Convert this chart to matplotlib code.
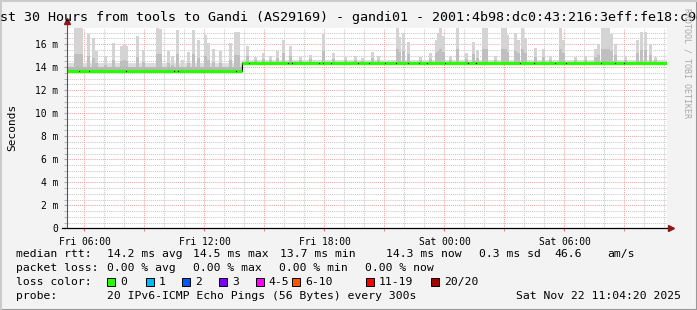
import numpy as np
import matplotlib.pyplot as plt
from matplotlib.lines import Line2D
from matplotlib.patches import Rectangle

plt.rcParams['font.family'] = ['DejaVu Sans Mono', 'DejaVu Sans']

W, H = 697, 310

# x axis: hours since graph start (Fri ~05:08), 30 hours shown
tick_hours = [0.87, 6.87, 12.87, 18.87, 24.87]
tick_labels = ['Fri 06:00', 'Fri 12:00', 'Fri 18:00', 'Sat 00:00', 'Sat 06:00']
ytick_vals = [0, 2, 4, 6, 8, 10, 12, 14, 16]
ytick_labels = ['0', '2 m', '4 m', '6 m', '8 m', '10 m', '12 m', '14 m', '16 m']

# median rtt (ms), one level per segment
median_hours = [0, 8.74, 30]
median_ms = [13.7, 14.4]
smoke_lo = [13.6, 14.3]
smoke_hi = [14.35, 14.6]
smoke_dark_hi = [14.05, 14.45]

# smoke spikes: hour and max rtt (ms)
spike_hours = [0.4, 0.55, 0.7, 1.05, 1.3, 1.48, 1.9, 2.3, 2.7, 2.85, 2.95, 3.5, 3.8,
               4.5, 4.65, 5.05, 5.25, 5.5, 5.75, 6.05, 6.3, 6.55, 6.9, 7.05, 7.3,
               7.65, 8.15, 8.4, 8.55, 9.0, 9.4, 9.8, 10.15, 10.5, 10.8, 11.15,
               11.65, 12.15, 12.8, 13.3, 13.9, 14.4, 14.75, 15.25, 15.55, 16.5,
               16.6, 16.8, 17.05, 17.65, 18.15, 18.45, 18.55, 18.65, 18.8, 19.15,
               19.5, 19.95, 20.3, 20.5, 20.8, 20.95, 21.4, 21.75, 21.9, 22.0,
               22.4, 22.55, 22.75, 22.9, 23.4, 23.8, 24.15, 24.65, 24.8, 25.4,
               25.9, 26.4, 26.55, 26.75, 26.9, 27.05, 27.2, 27.4, 27.9, 28.5,
               28.7, 28.9, 29.15, 29.4]
spike_ms = [17.4, 17.4, 17.4, 16.9, 16.5, 15.4, 15.0, 16.1, 15.8, 16.0, 15.8, 16.7, 15.5,
            17.4, 17.3, 15.4, 15.0, 17.25, 14.6, 15.3, 17.25, 16.4, 16.8, 16.1, 15.6,
            15.4, 16.1, 17.1, 17.1, 15.8, 14.9, 15.2, 15.0, 15.4, 16.4, 15.8,
            14.9, 15.1, 16.9, 15.2, 14.9, 15.0, 14.8, 15.3, 15.0, 17.4,
            16.6, 17.0, 16.2, 14.9, 15.2, 16.4, 17.0, 17.4, 16.7, 15.0,
            17.4, 15.2, 16.2, 15.5, 17.4, 17.4, 15.0, 17.4, 17.4, 16.8,
            17.0, 16.4, 17.4, 16.5, 15.7, 15.6, 15.0, 17.4, 16.4, 14.9,
            15.0, 15.6, 16.0, 17.4, 17.4, 17.4, 16.9, 16.0, 15.0, 16.4,
            17.1, 17.1, 16.0, 14.9]

# dark pixels on the median line
dot_hours = [0.6, 1.1, 2.95, 5.35, 5.55, 8.45, 9.12, 11.06, 11.25, 12.6, 12.8, 13.18,
             14.53, 15.11, 15.89, 16.47, 17.05, 17.62, 18.01, 18.88, 20.04, 20.43,
             22.65, 23.33, 24.39, 24.97, 26.7, 27.38, 27.86]

loss_labels = ['0', '1', '2', '3', '4-5', '6-10', '11-19', '20/20']
loss_colors = ['#26ff00', '#00b8ff', '#0059ff', '#7e00ff', '#ff00ff', '#ff5500', '#ff0000', '#a10000']


def fx(x):
    return x / W


def fy(y):
    return 1 - y / H


fig = plt.figure(figsize=(W / 100, H / 100), dpi=100, facecolor='#f3f3f3')
ax = fig.add_axes([fx(67), fy(228.3), 600 / W, (228.3 - 27.5) / H])
ax.set_facecolor('white')
ax.set_xlim(0, 30)
ax.set_ylim(0, 17.45)
for s in ax.spines.values():
    s.set_visible(False)

# grid
grey, red = '#c9c9c9', '#f2a5a5'
for v in np.arange(0.5, 17.5, 0.5):
    is_major = v % 2 == 0
    ax.axhline(v, color=red if is_major else grey, lw=0.75, ls=(0, (1, 1)), zorder=0)
for k in range(30):
    h = 0.87 + k
    if h < 30:
        ax.axvline(h, color=red if k % 3 == 0 else grey, lw=0.75, ls=(0, (1, 1)), zorder=0)

# smoke
idx = np.array(spike_hours) >= median_hours[1]
base = np.where(idx, median_ms[1], median_ms[0])
top = np.array(spike_ms)
ax.fill_between(median_hours, smoke_lo + [smoke_lo[-1]], smoke_hi + [smoke_hi[-1]],
                step='post', color='#dcdcdc', lw=0, zorder=1)
ax.bar(spike_hours, top - base, bottom=base, width=0.15, align='center',
       color='#d4d4d4', lw=0, zorder=1)
ax.bar(spike_hours, (top - base) * 0.4, bottom=base, width=0.15, align='center',
       color='#bfbfbf', lw=0, zorder=1)
ax.fill_between(median_hours, median_ms + [median_ms[-1]], smoke_dark_hi + [smoke_dark_hi[-1]],
                step='post', color='#b8b8b8', lw=0, zorder=1)

# median
ax.step(median_hours, median_ms + [median_ms[-1]], where='post', color='black', lw=0.8, zorder=2)
ax.hlines(median_ms, median_hours[:-1], median_hours[1:], color='#26ff00', lw=2.3, zorder=3)
dot_y = np.where(np.array(dot_hours) >= median_hours[1], median_ms[1], median_ms[0])
ax.plot(dot_hours, dot_y, ls='none', marker='s', ms=0.8, mew=0, color='black', zorder=4)

# ticks
ax.set_xticks(tick_hours, tick_labels)
ax.set_xticks([h for h in np.arange(0.87, 30, 3) if h not in tick_hours], minor=True)
ax.tick_params(axis='x', which='both', length=2.5, color='#e07070', pad=3.5, labelsize=6.9)
ax.set_yticks(ytick_vals, ytick_labels)
ax.set_yticks(np.arange(0.5, 17.5, 0.5), minor=True)
ax.tick_params(axis='y', which='both', length=2, color='#aaaaaa', pad=4.5, labelsize=6.9)

# axes lines with arrows
fig.add_artist(Line2D([fx(67), fx(67)], [fy(228.3), fy(21)], color='#555555', lw=0.8,
                      transform=fig.transFigure))
fig.add_artist(Line2D([fx(62), fx(671)], [fy(228.3), fy(228.3)], color='black', lw=0.9,
                      transform=fig.transFigure))
fig.add_artist(Line2D([fx(67)], [fy(21)], marker='^', ms=4.5, color='#8b1a1a',
                      transform=fig.transFigure))
fig.add_artist(Line2D([fx(671)], [fy(228.3)], marker='>', ms=4.5, color='#8b1a1a',
                      transform=fig.transFigure))

# frame shading
fig.add_artist(Line2D([0, 1], [fy(309.5), fy(309.5)], color='#999999', lw=1.5, transform=fig.transFigure))
fig.add_artist(Line2D([fx(696.5), fx(696.5)], [0, 1], color='#999999', lw=1.5, transform=fig.transFigure))
fig.add_artist(Line2D([0, 1], [fy(0.5), fy(0.5)], color='#cbcbcb', lw=1.5, transform=fig.transFigure))
fig.add_artist(Line2D([fx(0.5), fx(0.5)], [0, 1], color='#cbcbcb', lw=1.5, transform=fig.transFigure))

# title and side texts
fig.text(0.5, fy(18), 'Last 30 Hours from tools to Gandi (AS29169) - gandi01 - '
         '2001:4b98:dc0:43:216:3eff:fe18:c9d1', ha='center', va='center', fontsize=9.6)
fig.text(fx(12), fy(127), 'Seconds', rotation=90, ha='center', va='center', fontsize=8)
fig.text(fx(687.5), fy(8), 'RRDTOOL / TOBI OETIKER', rotation=270, ha='center', va='top',
         fontsize=6, color='#a8a8a8')

# legend block
fs = 8.2
row_y = [254, 268, 282, 296]
fig.text(fx(16), fy(row_y[0]), 'median rtt:', va='center', fontsize=fs)
for x, s in zip([107, 193, 280, 386, 479, 554, 607],
                ['14.2 ms avg', '14.5 ms max', '13.7 ms min', '14.3 ms now', '0.3 ms sd', '46.6', 'am/s']):
    fig.text(fx(x), fy(row_y[0]), s, va='center', fontsize=fs)
fig.text(fx(16), fy(row_y[1]), 'packet loss:', va='center', fontsize=fs)
for x, s in zip([107, 193, 279, 365], ['0.00 % avg', '0.00 % max', '0.00 % min', '0.00 % now']):
    fig.text(fx(x), fy(row_y[1]), s, va='center', fontsize=fs)
fig.text(fx(16), fy(row_y[2]), 'loss color:', va='center', fontsize=fs)
box_x = [107.3, 145.7, 182.3, 219, 255.7, 292.3, 365.7, 431]
for x, lab, c in zip(box_x, loss_labels, loss_colors):
    fig.add_artist(Rectangle((fx(x), fy(row_y[2] + 4)), 8 / W, 8 / H, facecolor=c,
                             edgecolor='black', lw=0.7, transform=fig.transFigure))
    fig.text(fx(x + 13), fy(row_y[2]), lab, va='center', fontsize=fs)
fig.text(fx(16), fy(row_y[3]), 'probe:', va='center', fontsize=fs)
fig.text(fx(107), fy(row_y[3]), '20 IPv6-ICMP Echo Pings (56 Bytes) every 300s', va='center', fontsize=fs)
fig.text(fx(681), fy(row_y[3]), 'Sat Nov 22 11:04:20 2025', ha='right', va='center', fontsize=fs)

fig.savefig('out.png', dpi=100, facecolor=fig.get_facecolor())
